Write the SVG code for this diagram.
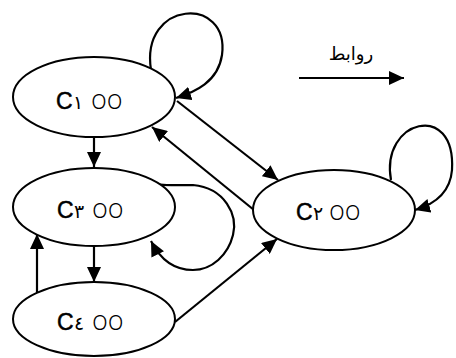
<svg xmlns="http://www.w3.org/2000/svg" width="456" height="358" viewBox="0 0 456 358">
<style>
.node ellipse{fill:#fff;stroke:#000;stroke-width:2}
.node text{font-family:"Liberation Sans",sans-serif;font-size:23px;fill:#000}
.node .c{stroke:#000;stroke-width:0.5}
.node .d{font-family:"DejaVu Sans",sans-serif;font-size:19px}
.node .z{font-family:"Open Sans","Liberation Sans",sans-serif;font-weight:300;font-size:27px}
.edge{fill:none;stroke:#000;stroke-width:2.2}
.lbl{font-family:"DejaVu Sans","Noto Sans",sans-serif;font-size:18px;fill:#000;text-anchor:middle}
</style>
<defs>
<marker id="ah" viewBox="0 0 15 14" refX="15" refY="7" markerWidth="15" markerHeight="14" markerUnits="userSpaceOnUse" orient="auto">
<path d="M0,0 L15,7 L0,14 Z" fill="#000"/>
</marker>
</defs>
<g id="connectors">
<path class="edge" d="M151,70 C140,0 230,-5 222,55 C218,82 195,92 176,98" marker-end="url(#ah)"/>
<path class="edge" d="M94,137 L94,167" marker-end="url(#ah)"/>
<path class="edge" d="M177,101 L278,180" marker-end="url(#ah)"/>
<path class="edge" d="M254,210 L152,127" marker-end="url(#ah)"/>
<path class="edge" d="M391,180 C380,120 456,100 452,170 C450,195 432,205 415,210" marker-end="url(#ah)"/>
<path class="edge" d="M152,183 C158,186 170,185 193,185 C225,188 238,215 233,235 C228,255 212,270 193,270 C170,270 158,255 151,241" marker-end="url(#ah)"/>
<path class="edge" d="M94,246 L94,282" marker-end="url(#ah)"/>
<path class="edge" d="M37,292 L37,234" marker-end="url(#ah)"/>
<path class="edge" d="M175,322 L277,239" marker-end="url(#ah)"/>
<path class="edge" d="M299,78 L404,78" marker-end="url(#ah)"/>
</g>
<text class="lbl" x="351" y="60">روابط</text>
<g id="c100" class="node"><ellipse cx="94" cy="97" rx="81" ry="40"/><text y="109"><tspan class="c" x="56">C</tspan><tspan class="d" x="73">١</tspan><tspan class="z" x="91">oo</tspan></text></g>
<g id="c300" class="node"><ellipse cx="94" cy="207" rx="81" ry="39"/><text y="218"><tspan class="c" x="57">C</tspan><tspan class="d" x="74">٣</tspan><tspan class="z" x="92">oo</tspan></text></g>
<g id="c400" class="node"><ellipse cx="94" cy="319" rx="81" ry="37"/><text y="330"><tspan class="c" x="57">C</tspan><tspan class="d" x="74">٤</tspan><tspan class="z" x="92">oo</tspan></text></g>
<g id="c200" class="node"><ellipse cx="334" cy="210" rx="81" ry="40"/><text y="220"><tspan class="c" x="296">C</tspan><tspan class="d" x="313">٢</tspan><tspan class="z" x="329">oo</tspan></text></g>
</svg>
